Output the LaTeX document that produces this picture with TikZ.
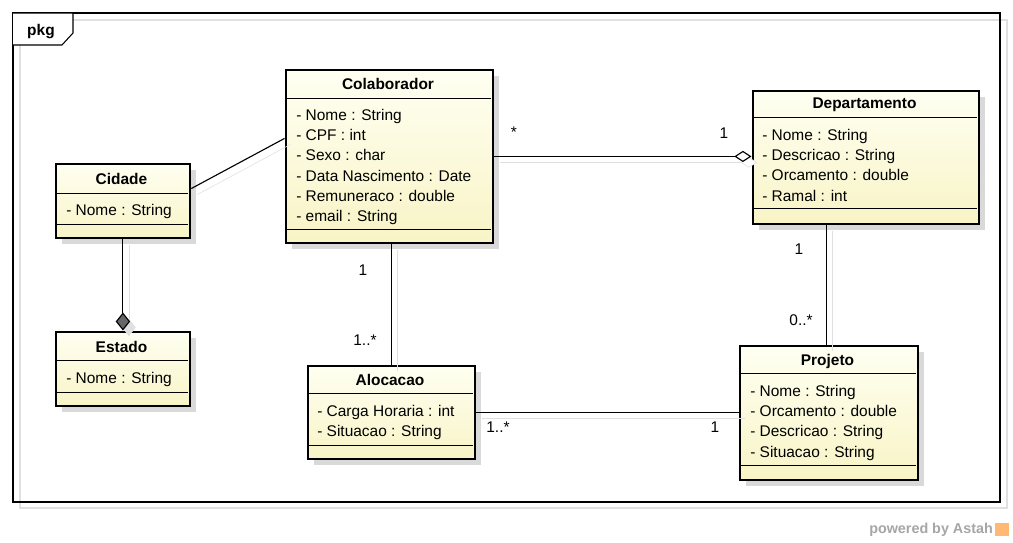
\documentclass[tikz,border=0pt]{standalone}
\usepackage{fontspec}
\setmainfont{Liberation Sans}
\usetikzlibrary{positioning, arrows.meta, shadows, backgrounds}

\definecolor{classtop}{HTML}{FFFFF2}
\definecolor{classbottom}{HTML}{F8F4C6}
\definecolor{boxshadow}{HTML}{D9D9D9}
\definecolor{lineshadow}{HTML}{E0E0E0}

\begin{document}
\begin{tikzpicture}[
    x=0.025cm, y=-0.025cm,
    classbox/.style={
        rectangle,
        draw,
        line width=2pt,
        anchor=north west,
        top color=classtop,
        bottom color=classbottom,
        drop shadow={shadow xshift=0.15cm, shadow yshift=-0.15cm, fill=boxshadow, opacity=1}
    },
    classtitle/.style={
        anchor=base,
        inner sep=0pt,
        font=\bfseries\fontsize{11}{13}\selectfont
    },
    attrs/.style={
        anchor=north west,
        align=left,
        inner sep=0pt,
        font=\fontsize{11}{14.4}\selectfont
    },
    mult/.style={anchor=base, inner sep=0pt, font=\fontsize{11}{13}\selectfont},
    divider/.style={line width=0.7pt},
    assoc/.style={
        line width=0.8pt,
        preaction={draw=lineshadow, transform canvas={xshift=0.15cm, yshift=-0.15cm}}
    },
    aggreg/.style={assoc, -{Diamond[length=0.43cm, width=0.28cm, fill=white]}},
    compos/.style={
        line width=0.8pt,
        -{Diamond[length=0.45cm, width=0.36cm, fill=black!60]},
        preaction={draw=lineshadow, -{Diamond[length=0.45cm, width=0.36cm, fill=lineshadow]},
            transform canvas={xshift=0.15cm, yshift=-0.15cm}}
    }
]
\useasboundingbox (0,0) rectangle (1013,542);

% Frame
\begin{scope}[on background layer]
\fill[white] (0,0) rectangle (1013,542);
\draw[lineshadow, line width=0.75pt] (20,20) rectangle (1007,508);
\draw[line width=0.75pt] (13,13) rectangle (1000,502);
\draw[line width=0.75pt, fill=white] (13,13) -- (73,13) -- (73,33) -- (62,45) -- (13,45);
\end{scope}
\node[classtitle] (pkg) at (41,35) {pkg};

% Colaborador
\node[classbox, minimum width=5.175cm, minimum height=4.325cm] (colab) at (284.5,68.5) {};
\node[classtitle] (colabtitle) at (388,89) {Colaborador};
\draw[divider] (285,98) -- (491,98);
\node[attrs] (colabattrs) at (296,109) {- Nome : String\\- CPF : int\\- Sexo : char\\- Data Nascimento : Date\\- Remuneraco : double\\- email : String};
\draw[divider] (285,229) -- (491,229);

% Cidade
\node[classbox, minimum width=3.35cm, minimum height=1.85cm] (cidade) at (54.5,162.5) {};
\node[classtitle] (cidadetitle) at (121.5,184) {Cidade};
\draw[divider] (55,193) -- (188,193);
\node[attrs] (cidadeattrs) at (66,204) {- Nome : String};
\draw[divider] (55,224) -- (188,224);

% Estado
\node[classbox, minimum width=3.35cm, minimum height=1.85cm] (estado) at (54.5,330.5) {};
\node[classtitle] (estadotitle) at (121.5,352) {Estado};
\draw[divider] (55,360) -- (188,360);
\node[attrs] (estadoattrs) at (66,372) {- Nome : String};
\draw[divider] (55,392) -- (188,392);

% Departamento
\node[classbox, minimum width=5.65cm, minimum height=3.325cm] (dept) at (751.5,89.5) {};
\node[classtitle] (depttitle) at (864.5,108) {Departamento};
\draw[divider] (752,117) -- (977,117);
\node[attrs] (deptattrs) at (762,129) {- Nome : String\\- Descricao : String\\- Orcamento : double\\- Ramal : int};
\draw[divider] (752,208) -- (977,208);

% Alocacao
\node[classbox, minimum width=4.175cm, minimum height=2.325cm] (aloc) at (306.5,364.5) {};
\node[classtitle] (aloctitle) at (390,385) {Alocacao};
\draw[divider] (307,393) -- (473,393);
\node[attrs] (alocattrs) at (317,405) {- Carga Horaria : int\\- Situacao : String};
\draw[divider] (307,445) -- (473,445);

% Projeto
\node[classbox, minimum width=4.45cm, minimum height=3.35cm] (proj) at (738.5,344.5) {};
\node[classtitle] (projtitle) at (827.5,365) {Projeto};
\draw[divider] (739,373) -- (916,373);
\node[attrs] (projattrs) at (750,385) {- Nome : String\\- Orcamento : double\\- Descricao : String\\- Situacao : String};
\draw[divider] (739,465) -- (916,465);

% Connectors
\draw[assoc] ([yshift=0.31cm]cidade.east) -- ([yshift=0.45cm]colab.west);
\draw[aggreg] (colab.east) -- (colab.east -| dept.west);
\draw[assoc] (aloc.north |- colab.south) -- (aloc.north);
\draw[compos] (cidade.south) -- (estado.north);
\draw[assoc] ([xshift=-0.06cm]proj.north |- dept.south) -- ([xshift=-0.06cm]proj.north);
\draw[assoc] (aloc.east) -- (aloc.east -| proj.west);

% Multiplicities
\node[mult] (m1) at (514,137) {*};
\node[mult] (m2) at (724,138) {1};
\node[mult] (m3) at (363,275) {1};
\node[mult] (m4) at (365,345) {1..*};
\node[mult] (m5) at (799,254) {1};
\node[mult] (m6) at (801,325) {0..*};
\node[mult] (m7) at (498,432) {1..*};
\node[mult] (m8) at (715,432) {1};

% Footer
\node[anchor=base west, inner sep=0pt, text=black!35, font=\bfseries\fontsize{10.2}{12}\selectfont] (powered) at (869,533) {powered by Astah};
\node[fill=orange!55, inner sep=0pt, minimum size=0.34cm, right=0.05cm of powered] (astahicon) {};

\end{tikzpicture}
\end{document}
